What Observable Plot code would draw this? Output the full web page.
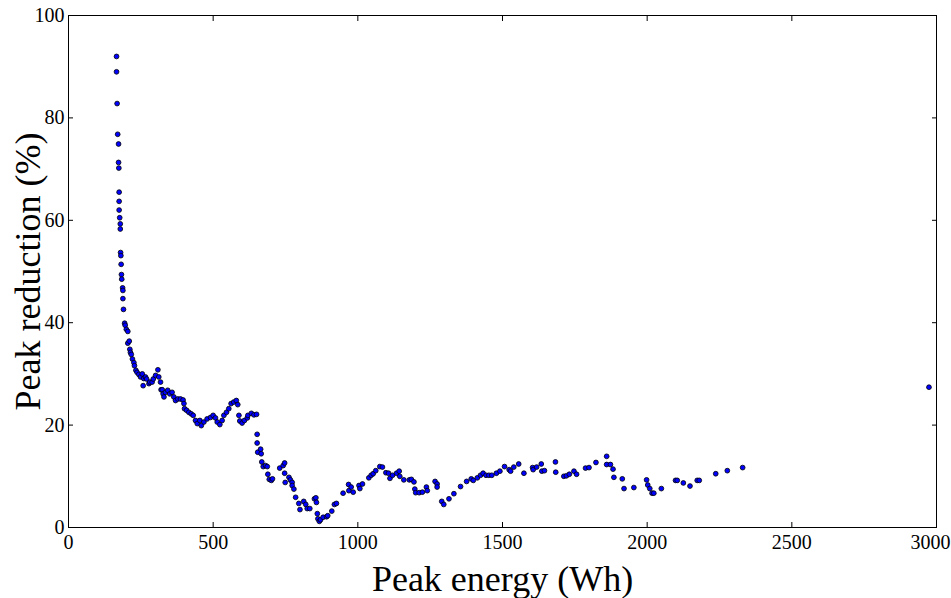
<!DOCTYPE html>
<html>
<head>
<meta charset="utf-8">
<script src="https://cdn.jsdelivr.net/npm/d3@7"></script>
<script src="https://cdn.jsdelivr.net/npm/@observablehq/plot@0.6"></script>
<style>
  html, body { margin: 0; padding: 0; background: #fff; }
  #chart svg { display: block; }
</style>
</head>
<body>
<div id="chart"></div>
<script>
const energyWh = [
  166,166,168,170,173,173,174,175,175,175,177,179,179,180,181,182,183,184,187,188,188,190,194,196,200,205,205,210,212,214,217,221,226,228,233,237,243,249,
  255,258,260,266,270,278,281,289,293,301,309,312,318,320,324,327,330,335,343,350,358,364,370,378,387,396,399,401,408,416,424,431,439,445,454,459,468,479,491,500,508,514,523,531,537,546,554,562,571,580,585,589,592,600,608,618,620,632,641,650,
  652,652,654,664,666,668,673,681,687,689,694,701,705,730,742,747,747,749,762,767,773,773,779,785,796,800,813,820,825,834,850,855,857,860,862,867,871,880,892,896,910,919,926,
  949,968,969,977,984,1004,1007,1016,1038,1046,1053,1062,1076,1085,1097,1106,1111,1120,1134,1143,1145,1159,1178,1185,1194,1197,1200,1212,1223,1237,1240,1267,1274,1274,
  1290,1297,1315,1332,1355,1376,1392,1399,1413,1424,1433,1443,1453,1463,1479,1491,1507,1523,1528,1539,1556,1574,1604,1606,1618,1634,1636,1645,1683,1684,1712,1721,1731,1747,1756,1787,1799,1823,
  1860,1860,1873,1882,1885,1914,1920,1954,1998,2002,2009,2017,2023,2049,2098,2104,2125,2148,2173,2180,2237,2277,2330,2974
];
const reductionPct = [
  92.0,89.0,82.8,76.8,74.9,71.3,70.2,65.5,63.7,62.0,60.5,59.3,58.3,53.7,53.1,51.4,49.4,48.5,46.8,46.3,44.7,42.6,39.9,39.5,38.7,38.3,36.0,36.4,34.8,34.2,33.8,32.9,32.2,31.6,30.7,30.3,29.9,29.4,
  30.0,27.7,29.1,29.4,29.0,28.1,28.4,28.4,29.0,29.7,30.8,29.4,28.4,26.9,26.9,26.1,25.5,26.4,26.8,26.1,26.4,25.5,24.8,25.1,25.1,24.9,24.2,23.2,22.9,22.5,22.2,21.9,20.9,20.3,20.9,19.9,20.6,21.2,21.5,21.9,21.4,20.6,20.1,20.9,21.9,22.5,23.2,24.2,24.5,24.8,24.0,21.9,20.8,20.4,20.9,21.4,21.9,22.3,22.0,22.1,
  18.2,16.5,14.7,15.3,14.4,12.8,11.9,12.1,11.9,10.4,9.4,9.2,9.5,11.6,12.1,12.6,10.6,8.8,9.8,9.3,8.8,8.2,7.5,5.9,4.7,3.5,5.1,4.5,3.7,3.7,5.6,5.8,4.9,2.7,1.7,1.2,1.5,2.0,2.1,2.3,3.2,4.5,4.7,
  6.7,8.4,7.2,7.9,6.9,8.2,7.6,8.5,9.7,10.2,10.5,11.1,11.9,11.8,10.7,10.6,9.6,10.2,10.6,11.0,10.0,9.3,9.3,9.4,8.9,7.5,6.8,6.8,6.9,7.9,7.2,9.0,8.5,7.9,
  5.1,4.5,5.6,6.6,8.0,9.0,9.5,9.2,9.7,10.2,10.6,10.2,10.2,10.2,10.6,11.0,11.9,11.3,11.0,11.8,12.4,10.6,11.7,11.3,11.8,12.4,11.0,11.1,12.8,10.8,10.0,10.1,10.4,11.0,10.4,11.6,11.7,12.7,
  13.9,12.3,12.3,11.4,9.8,9.5,7.6,7.8,9.3,8.3,7.6,6.7,6.7,7.6,9.2,9.2,8.7,8.1,9.2,9.2,10.5,11.1,11.7,27.4
];
const xTicks = [0, 500, 1000, 1500, 2000, 2500, 3000];
const yTicks = [0, 20, 40, 60, 80, 100];
const xLabel = "Peak energy (Wh)";
const yLabel = "Peak reduction (%)";

const points = energyWh.map((e, i) => ({energy: e, reduction: reductionPct[i]}));
const xTicksInner = xTicks.slice(0, -1);
const xTicksLast = xTicks.slice(-1);

const chart = Plot.plot({
  width: 951,
  height: 598,
  marginLeft: 68,
  marginRight: 15,
  marginTop: 15,
  marginBottom: 71,
  style: {fontFamily: "'Liberation Serif', serif", color: "black", background: "white"},
  x: {domain: [0, 3000], label: null},
  y: {domain: [0, 100], label: null},
  marks: [
    Plot.dot(points, {x: "energy", y: "reduction", r: 2.4, fill: "#0000ff", stroke: "black", strokeWidth: 0.8}),
    Plot.frame({stroke: "black", strokeWidth: 1}),
    Plot.axisX({anchor: "bottom", ticks: xTicks, tickSize: -5, fill: "none", label: null}),
    Plot.axisX({anchor: "top", ticks: xTicks, tickSize: -5, fill: "none", label: null}),
    Plot.axisY({anchor: "left", ticks: yTicks, tickSize: -5, fill: "none", label: null}),
    Plot.axisY({anchor: "right", ticks: yTicks, tickSize: -5, fill: "none", label: null}),
    Plot.axisX({anchor: "bottom", ticks: xTicksInner, tickSize: 0, tickPadding: 7, tickFormat: "d", fontSize: 20, label: null}),
    Plot.axisX({anchor: "bottom", ticks: xTicksLast, tickSize: 0, tickPadding: 7, tickFormat: "d", fontSize: 20, dx: -6, label: null}),
    Plot.axisY({anchor: "left", ticks: yTicks, tickSize: 0, tickPadding: 4, tickFormat: "d", fontSize: 20, label: null}),
    Plot.text([xLabel], {frameAnchor: "bottom", dy: 52, text: d => d, fontSize: 36, textAnchor: "middle", lineAnchor: "middle", fill: "black"}),
    Plot.text([yLabel], {frameAnchor: "left", dx: -40, rotate: -90, text: d => d, fontSize: 36, textAnchor: "middle", lineAnchor: "middle", fill: "black"})
  ]
});
document.getElementById("chart").append(chart);
</script>
</body>
</html>
